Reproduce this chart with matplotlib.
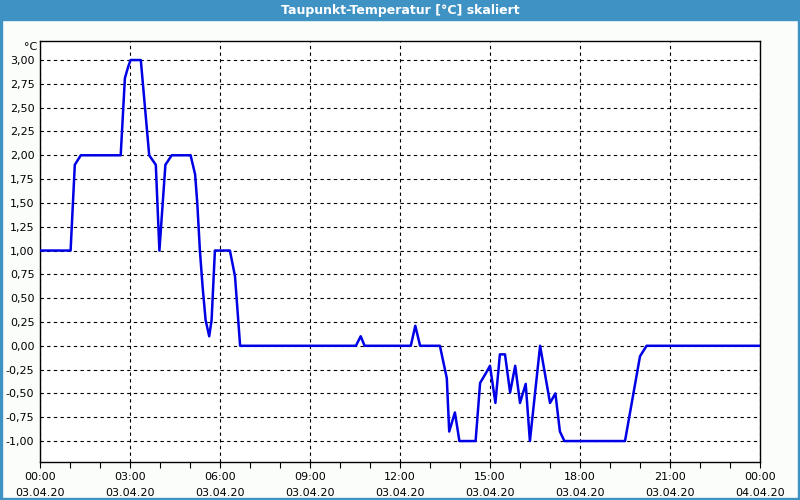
import matplotlib
matplotlib.use("Agg")
import matplotlib.pyplot as plt
from matplotlib.patches import Rectangle
from matplotlib.ticker import MultipleLocator, FuncFormatter

# Stunden seit 03.04.20 00:00 und Taupunkt in °C
hours = [0.00, 1.02, 1.16, 1.36, 2.69, 2.83, 2.94, 3.02, 3.36, 3.64, 3.86, 3.98,
         4.18, 4.39, 5.02, 5.17, 5.24, 5.33, 5.42, 5.52, 5.64, 5.72, 5.83, 6.33,
         6.50, 6.64, 6.67, 10.53, 10.69, 10.82, 12.36, 12.51, 12.67, 13.33, 13.56,
         13.64, 13.83, 13.98, 14.52, 14.67, 14.84, 15.00, 15.18, 15.33, 15.50,
         15.67, 15.84, 16.00, 16.19, 16.33, 16.67, 17.00, 17.18, 17.33, 17.48,
         19.50, 20.00, 20.22, 24.00]
dewpoint = [1.00, 1.00, 1.90, 2.00, 2.00, 2.81, 2.93, 3.00, 3.00, 2.00, 1.90, 1.00,
            1.90, 2.00, 2.00, 1.80, 1.51, 1.00, 0.62, 0.27, 0.10, 0.27, 1.00, 1.00,
            0.73, 0.13, 0.00, 0.00, 0.10, 0.00, 0.00, 0.21, 0.00, 0.00, -0.34,
            -0.90, -0.70, -1.00, -1.00, -0.39, -0.30, -0.21, -0.60, -0.09, -0.09,
            -0.49, -0.21, -0.60, -0.40, -1.00, 0.00, -0.60, -0.50, -0.90, -1.00,
            -1.00, -0.11, 0.00, 0.00]

tick_hours = [0, 3, 6, 9, 12, 15, 18, 21, 24]
tick_labels = ["00:00\n03.04.20", "03:00\n03.04.20", "06:00\n03.04.20",
               "09:00\n03.04.20", "12:00\n03.04.20", "15:00\n03.04.20",
               "18:00\n03.04.20", "21:00\n03.04.20", "00:00\n04.04.20"]

title = "Taupunkt-Temperatur [°C] skaliert"
frame_blue = "#3f92c4"

plt.rcParams['font.family'] = ['DejaVu Sans']
fig = plt.figure(figsize=(8, 5), dpi=100, facecolor="#fbfdfb")

# Titelleiste und Rahmen
fig.patches.append(Rectangle((0, 0.96), 1, 0.04, transform=fig.transFigure,
                             color=frame_blue, zorder=0))
for rect in [(0, 0, 0.0025, 1), (0.9975, 0, 0.0025, 1), (0, 0, 1, 0.004)]:
    fig.patches.append(Rectangle(rect[:2], rect[2], rect[3], transform=fig.transFigure,
                                 color=frame_blue, zorder=0))
fig.text(0.5, 0.979, title, color="white", fontsize=9, fontweight="bold",
         ha="center", va="center")

ax = fig.add_axes([0.05, 0.076, 0.90, 0.843])
ax.set_facecolor("white")
ax.plot(hours, dewpoint, color="#0000e6", linewidth=1.8, zorder=3)

ax.set_xlim(0, 24)
ax.set_ylim(-1.22, 3.205)
ax.set_xticks(tick_hours)
ax.set_xticklabels(tick_labels, fontsize=8, linespacing=1.75)
ax.xaxis.set_minor_locator(MultipleLocator(1))
ax.set_yticks([v / 4 for v in range(-4, 13)])
ax.yaxis.set_major_formatter(FuncFormatter(lambda v, p: f"{v:.2f}".replace(".", ",")))
ax.tick_params(axis="y", length=0, labelsize=8, pad=4)
ax.tick_params(axis="x", which="both", length=4, width=0.8, pad=3)
ax.tick_params(axis="x", which="major", labelsize=8)

ax.grid(True, which="major", color="black", linestyle=(0, (3, 3)), linewidth=0.8)
for s in ax.spines.values():
    s.set_linewidth(1.0)
    s.set_color("black")

fig.text(0.046, 0.906, "°C", fontsize=8, ha="right", va="center")

fig.savefig("out.png", dpi=100, facecolor=fig.get_facecolor())
